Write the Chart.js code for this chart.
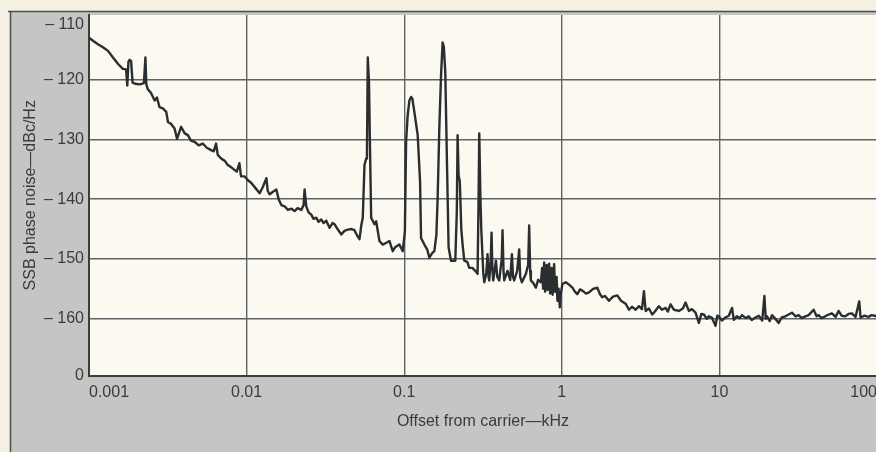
<!DOCTYPE html>
<html><head><meta charset="utf-8">
<script src="https://cdn.jsdelivr.net/npm/chart.js@4.4.1/dist/chart.umd.min.js"></script>
<style>
html,body{margin:0;padding:0;overflow:hidden;background:#f4f1e3;}
#wrap{position:absolute;left:0;top:0;width:884px;height:452px;}
</style></head><body>
<div id="wrap"><canvas id="c" width="884" height="452"></canvas></div>
<script>
const freqKHz = [
0.001,0.00106,0.00114,0.001226,0.00132,0.00142,0.00153,0.00164,0.00172,0.00175,
0.00178,0.00181,0.00185,0.00189,0.00196,0.00210,0.00223,0.00228,0.00231,0.00236,
0.00247,0.00261,0.00270,0.00280,0.00294,0.00309,0.00317,0.00331,0.00349,0.00362,
0.00384,0.00405,0.00424,0.00443,0.00467,0.00497,0.00527,0.00559,0.00595,0.00619,
0.00640,0.00656,0.00689,0.00727,0.00759,0.00793,0.00837,0.00866,0.00900,0.00922,
0.00973,0.01016,0.01072,0.01142,0.01211,0.01265,0.01335,0.01361,0.01401,0.01463,
0.01544,0.01597,0.01661,0.01743,0.01829,0.01930,0.02017,0.02107,0.02223,0.02299,
0.02333,0.02391,0.02473,0.02572,0.02660,0.02767,0.02861,0.02976,0.03078,0.03202,
0.03360,0.03510,0.03614,0.03775,0.03985,0.04181,0.04386,0.04630,0.04837,0.05053,
0.05203,0.05334,0.05460,0.05597,0.05738,0.05805,0.05873,0.05977,0.06082,0.06172,
0.06476,0.06638,0.06815,0.06966,0.07309,0.07714,0.08059,0.08456,0.08796,0.09324,
0.09784,0.09956,0.1010,0.1028,0.1052,0.1079,0.1106,0.1127,0.1160,0.1218,
0.1261,0.1279,0.1343,0.1403,0.1444,0.1509,0.1554,0.1600,0.1630,0.1671,
0.1713,0.1753,0.1784,0.1823,0.1869,0.1913,0.1982,0.2110,0.2157,0.2182,
0.2214,0.2253,0.2303,0.2347,0.2406,0.2513,0.2588,0.2704,0.2824,0.2921,
0.2964,0.2994,0.3047,0.3083,0.3174,0.3221,0.3316,0.3380,0.3430,0.3465,
0.3541,0.3583,0.3630,0.3673,0.3821,0.3894,0.4009,0.4158,0.4207,0.4268,
0.4312,0.4524,0.4705,0.4823,0.4901,0.4988,0.5211,0.5365,0.5444,0.5581,
0.5916,0.6118,0.6208,0.6299,0.6364,0.6581,0.6845,0.7078,0.7362,0.7503,
0.7613,0.7725,0.7839,0.8012,0.8130,0.8310,0.8432,0.8618,0.8745,0.8938,
0.9069,0.9270,0.9379,0.9544,0.9713,0.9827,1.009,1.060,1.112,1.167,
1.214,1.255,1.306,1.351,1.426,1.489,1.579,1.680,1.748,1.807,
1.880,1.993,2.113,2.250,2.375,2.543,2.669,2.787,2.942,3.087,
3.225,3.321,3.404,3.572,3.748,3.898,4.132,4.317,4.556,4.711,
4.900,5.142,5.533,5.865,6.100,6.400,6.687,7.058,7.406,7.681,
7.966,8.322,8.569,8.952,9.447,9.698,9.913,10.36,10.93,11.47,
12.03,12.34,12.89,13.46,13.92,14.70,15.36,16.04,16.93,17.77,
18.70,19.30,19.67,20.05,20.85,21.57,22.43,23.78,24.85,26.23,
27.51,28.87,30.47,31.84,33.26,35.10,36.83,39.62,41.39,42.62,
44.53,46.99,49.31,51.74,54.60,57.05,59.60,62.90,66.00,69.25,
73.09,77.14,78.62,83.33,88.33,92.28,96.42,100
];
const phaseNoise = [
-113.0,-113.5,-114.1,-114.6,-115.2,-116.3,-117.4,-118.2,-118.3,-121.0,
-117.0,-116.7,-116.9,-120.5,-120.7,-120.8,-120.6,-116.3,-120.8,-121.6,
-122.2,-123.5,-123.0,-124.6,-124.8,-125.4,-127.1,-127.4,-128.2,-129.9,
-127.9,-129.0,-129.3,-130.2,-130.4,-131.0,-130.7,-131.4,-131.8,-132.0,
-130.7,-132.6,-133.2,-133.6,-134.3,-134.6,-135.1,-135.4,-134.0,-136.2,
-136.2,-136.8,-137.3,-138.2,-139.0,-138.0,-136.5,-138.6,-139.2,-138.8,
-138.4,-140.0,-141.0,-141.2,-141.8,-141.6,-142.0,-141.5,-141.8,-141.0,
-138.4,-141.2,-142.2,-142.6,-143.3,-143.1,-143.8,-143.4,-144.0,-143.6,
-144.8,-144.0,-144.2,-145.0,-145.9,-145.3,-145.1,-145.0,-145.2,-146.2,
-146.7,-144.5,-143.1,-134.3,-133.2,-132.0,-116.3,-120.5,-133.0,-143.1,
-144.2,-143.7,-145.5,-147.0,-147.6,-147.3,-147.0,-148.7,-148.0,-147.6,
-148.7,-147.0,-145.4,-130.4,-126.0,-123.5,-122.9,-123.2,-125.4,-129.3,
-137.1,-146.5,-147.6,-148.5,-149.8,-149.0,-148.7,-146.0,-139.8,-128.0,
-119.3,-113.8,-114.5,-118.8,-134.3,-148.1,-150.3,-150.3,-142.0,-129.3,
-136.0,-137.0,-145.0,-147.6,-150.3,-150.5,-151.5,-151.5,-152.0,-152.5,
-140.0,-129.0,-140.0,-145.0,-152.3,-153.9,-152.5,-149.2,-153.0,-153.6,
-150.0,-145.6,-152.0,-153.6,-150.3,-153.0,-153.6,-150.0,-145.2,-152.0,
-153.6,-152.0,-153.5,-149.2,-153.0,-153.6,-152.0,-148.4,-153.0,-153.9,
-152.5,-151.0,-144.4,-152.0,-153.6,-154.0,-154.8,-153.5,-153.9,-151.5,
-155.0,-150.6,-155.5,-151.0,-155.2,-150.8,-155.8,-151.5,-156.0,-150.9,
-155.5,-153.0,-157.0,-155.0,-158.1,-156.0,-154.2,-153.9,-154.3,-154.8,
-155.5,-155.9,-155.1,-155.3,-155.8,-155.6,-155.0,-154.8,-155.9,-156.4,
-156.2,-157.0,-156.3,-156.1,-157.0,-157.5,-158.5,-158.0,-158.5,-157.9,
-158.4,-155.4,-158.7,-158.3,-159.3,-158.8,-157.9,-158.5,-158.2,-158.8,
-157.6,-158.5,-158.7,-158.3,-157.3,-158.7,-158.4,-159.0,-160.7,-159.2,
-159.3,-160.0,-159.6,-159.8,-161.2,-159.5,-159.6,-160.3,-159.8,-159.5,
-158.2,-160.2,-159.6,-159.9,-159.4,-159.9,-159.6,-160.2,-159.8,-159.5,
-160.3,-156.2,-160.0,-159.6,-160.4,-159.4,-159.9,-160.7,-159.8,-159.6,
-159.3,-159.0,-159.6,-159.4,-159.9,-159.6,-159.4,-158.5,-159.6,-159.4,
-159.9,-159.6,-159.3,-159.1,-159.7,-158.7,-159.5,-159.6,-159.2,-159.1,
-159.7,-157.1,-159.8,-159.5,-159.7,-159.4,-159.5,-159.6
];
const xTickValues = [0.001, 0.01, 0.1, 1, 10, 100];
const xTickLabels = ['0.001', '0.01', '0.1', '1', '10', '100'];
const yTickValues = [-169.5, -160, -150, -140, -130, -120, -110];
const yTickLabels = ['0', '\u2013 160', '\u2013 150', '\u2013 140', '\u2013 130', '\u2013 120', '\u2013 110'];
const xTitle = 'Offset from carrier\u2014kHz';
const yTitle = 'SSB phase noise\u2014dBc/Hz';

const FONT = "'Liberation Sans', Arial, Helvetica, sans-serif";
const TEXT = '#3a3b3b';
const GRID = '#5f6365';
const AXIS = '#3a3d3f';
const TOP_TICK = yTickValues[yTickValues.length - 1];

const bgPlugin = {
  id: 'bg',
  beforeDraw(chart) {
    const c = chart.ctx, a = chart.chartArea;
    c.save();
    c.fillStyle = '#f4f1e3';
    c.fillRect(0, 0, chart.width, chart.height);
    c.fillStyle = '#c5c5c3';
    c.fillRect(10, 11, chart.width - 10, chart.height - 11);
    c.fillStyle = '#fbf9f0';
    c.fillRect(a.left, a.top, a.right - a.left, a.bottom - a.top);
    c.strokeStyle = '#4a4d4f';
    c.lineWidth = 1.5;
    c.beginPath();
    c.moveTo(8, 11.5); c.lineTo(chart.width, 11.5);
    c.moveTo(10.5, 11); c.lineTo(10.5, chart.height);
    c.stroke();
    c.restore();
  }
};

new Chart(document.getElementById('c'), {
  type: 'line',
  data: {
    datasets: [{
      data: freqKHz.map((x, i) => ({ x: x, y: phaseNoise[i] })),
      borderColor: '#2b2e30',
      borderWidth: 2.4,
      pointRadius: 0,
      tension: 0,
      borderJoinStyle: 'round',
      fill: false
    }]
  },
  options: {
    responsive: false,
    animation: false,
    devicePixelRatio: 1,
    layout: { padding: { top: 12, right: 5, left: 0, bottom: 0 } },
    plugins: { legend: { display: false }, tooltip: { enabled: false } },
    scales: {
      x: {
        type: 'logarithmic',
        min: 0.001, max: 100,
        afterBuildTicks: s => { s.ticks = xTickValues.map(v => ({ value: v })); },
        afterFit: s => { s.height = 76.5; },
        grid: { color: GRID, lineWidth: 1.4, drawTicks: false },
        border: { display: true, color: AXIS, width: 2 },
        ticks: {
          autoSkip: false, maxRotation: 0, align: 'inner', padding: 7,
          color: TEXT, font: { family: FONT, size: 16 },
          callback: (v, i) => xTickLabels[i]
        },
        title: {
          display: true, text: xTitle, color: TEXT,
          font: { family: FONT, size: 16 }, padding: { top: 0, bottom: 21 }
        }
      },
      y: {
        type: 'linear',
        min: -169.5, max: -109.2,
        afterBuildTicks: s => { s.ticks = yTickValues.map(v => ({ value: v })); },
        afterFit: s => { s.width = 89; },
        grid: {
          color: ctx => (ctx.tick && ctx.tick.value === TOP_TICK) ? 'rgba(0,0,0,0)' : GRID,
          lineWidth: 1.4, drawTicks: false
        },
        border: { display: true, color: AXIS, width: 2 },
        ticks: {
          autoSkip: false, padding: 5,
          color: TEXT,
          font: ctx => (ctx.tick && ctx.tick.value === TOP_TICK)
            ? { family: FONT, size: 16, lineHeight: 0.625 }
            : { family: FONT, size: 16 },
          callback: (v, i) => v === TOP_TICK ? ['', yTickLabels[i]] : yTickLabels[i]
        },
        title: {
          display: true, text: yTitle, color: TEXT,
          font: { family: FONT, size: 16 }, padding: { top: 21, bottom: 0 }
        }
      }
    }
  },
  plugins: [bgPlugin]
});
</script>
</body></html>
